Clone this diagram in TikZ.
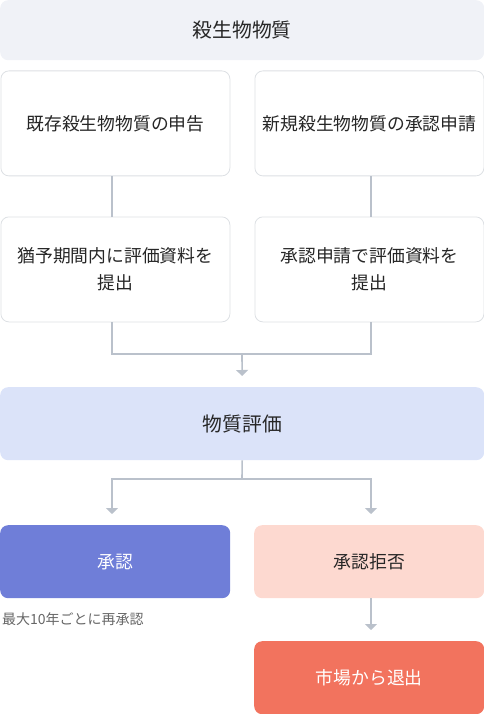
\documentclass[tikz,border=0pt]{standalone}
\usepackage{fontspec}
\setmainfont{Noto Sans CJK JP}
\usetikzlibrary{arrows.meta}
\definecolor{topfill}{HTML}{F0F2F7}
\definecolor{bordercol}{HTML}{DDE0E4}
\definecolor{evalfill}{HTML}{DBE3F9}
\definecolor{apfill}{HTML}{6F7ED8}
\definecolor{rjfill}{HTML}{FDD9D0}
\definecolor{exfill}{HTML}{F2735E}
\definecolor{linecol}{HTML}{BAC1CB}
\definecolor{txtcol}{HTML}{262626}
\definecolor{notecol}{HTML}{666666}
\tikzset{
  base/.style={anchor=north west, rounded corners=8pt, inner sep=0pt, align=center,
    text=txtcol, font=\fontsize{17.8}{27}\selectfont},
  whitebox/.style={base, draw=bordercol, line width=0.8pt, fill=white,
    minimum width=229pt, minimum height=105pt},
  conn/.style={draw=linecol, line width=1.6pt},
  arr/.style={conn, -{Triangle[width=12pt,length=6pt]}, shorten >=11pt},
}
\begin{document}
\begin{tikzpicture}[x=1pt,y=-1pt]
\useasboundingbox (0,0) rectangle (484,714);
\node[base, fill=topfill, minimum width=484pt, minimum height=60pt,
  font=\fontsize{19.8}{27}\selectfont] (top) at (0,0) {殺生物物質};
\node[whitebox] (a1) at (0.5,70.5) {既存殺生物物質の申告};
\node[whitebox] (b1) at (254.5,70.5) {新規殺生物物質の承認申請};
\node[whitebox] (a2) at (0.5,216.5) {猶予期間内に評価資料を\\提出};
\node[whitebox] (b2) at (254.5,216.5) {承認申請で評価資料を\\提出};
\node[base, fill=evalfill, minimum width=484pt, minimum height=73pt,
  font=\fontsize{19.8}{27}\selectfont] (ev) at (0,387) {物質評価};
\node[base, fill=apfill, text=white, minimum width=230pt, minimum height=73pt] (ap) at (0,525) {承認};
\node[base, fill=rjfill, minimum width=230pt, minimum height=73pt] (rj) at (254,525) {承認拒否};
\node[base, fill=exfill, text=white, minimum width=230pt, minimum height=73pt] (ex) at (254,641) {市場から退出};
\node[anchor=west, inner sep=0pt, text=notecol, font=\fontsize{14}{18}\selectfont] (note) at (2,619) {最大10年ごとに再承認};
\coordinate (m1) at (242,354);
\coordinate (m2) at (242,479);
\draw[conn] (a1.south -| 112,0) -- (a2.north -| 112,0);
\draw[conn] (b1.south -| 371,0) -- (b2.north -| 371,0);
\draw[conn] (a2.south -| 112,0) |- (m1);
\draw[conn] (b2.south -| 371,0) |- (m1);
\draw[arr] (m1) -- (ev.north);
\draw[conn] (ev.south) -- (m2);
\draw[arr] (m2) -| (ap.north -| 112,0);
\draw[arr] (m2) -| (rj.north -| 371,0);
\draw[arr] (rj.south -| 371,0) -- (ex.north -| 371,0);
\end{tikzpicture}
\end{document}
